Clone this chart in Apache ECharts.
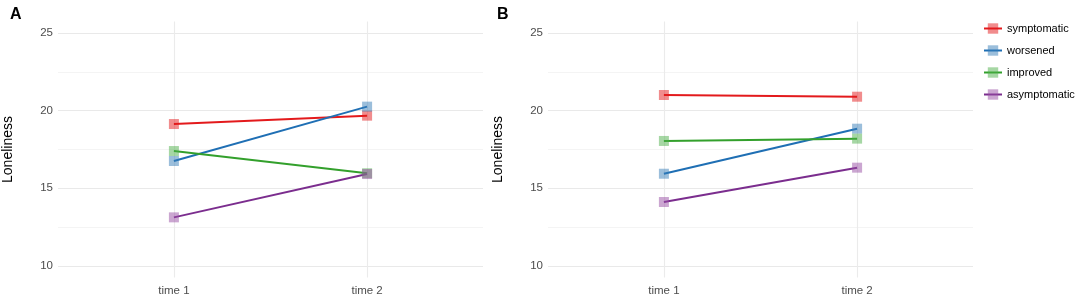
<!DOCTYPE html>
<html>
<head>
<meta charset="utf-8">
<script src="https://cdn.jsdelivr.net/npm/echarts@6/dist/echarts.min.js"></script>
<style>
  html, body { margin: 0; padding: 0; background: #fff; }
  #chart { width: 1084px; height: 305px; }
</style>
</head>
<body>
<div id="chart"></div>
<script>
// data
var timeLabels = ['time 1', 'time 2'];
var groups = ['symptomatic', 'worsened', 'improved', 'asymptomatic'];
var yTicks = [10, 15, 20, 25];
var yGrid = [10, 12.5, 15, 17.5, 20, 22.5, 25];

// panel A, one row per group (time 1, time 2)
var valuesA = [
  [19.14, 19.68],
  [16.76, 20.26],
  [17.40, 15.97],
  [13.13, 15.92]
];
// panel B
var valuesB = [
  [21.01, 20.90],
  [15.94, 18.84],
  [18.05, 18.20],
  [14.12, 16.33]
];

var lineColors = ['#e31a1c', '#1f6fb4', '#33a02c', '#7b2d8e'];
var markColors = ['#e41a1c', '#377eb8', '#4daf4a', '#984ea3'];

var fontFam = '"Liberation Sans", Arial, sans-serif';

function xAxisFor(idx) {
  return {
    type: 'value', gridIndex: idx, min: 0.4, max: 2.6,
    axisLine: { show: false },
    axisTick: { show: false, customValues: [1, 2] },
    axisLabel: {
      customValues: [1, 2], margin: 7,
      color: '#4d4d4d', fontSize: 11.5, fontFamily: fontFam,
      formatter: function (v) { return timeLabels[Math.round(v) - 1]; }
    },
    splitLine: { show: true, lineStyle: { color: '#ebebeb', width: 1.1 } }
  };
}

function yAxisFor(idx) {
  return {
    type: 'value', gridIndex: idx, min: 9.25, max: 25.75,
    name: 'Loneliness', nameLocation: 'middle', nameGap: 43, nameRotate: 90,
    nameTextStyle: { color: '#000', fontSize: 14, fontFamily: fontFam },
    axisLine: { show: false },
    axisTick: { show: false, customValues: yGrid },
    axisLabel: {
      customValues: yTicks, margin: 5,
      color: '#4d4d4d', fontSize: 11.5, fontFamily: fontFam
    },
    splitLine: { show: true, lineStyle: { color: ['#e9e9e9', '#f4f4f4'], width: 1.1 } }
  };
}

function seriesFor(values, idx) {
  return groups.map(function (g, i) {
    return {
      name: g, type: 'line', xAxisIndex: idx, yAxisIndex: idx,
      data: values[i].map(function (v, t) { return [t + 1, v]; }),
      symbol: 'rect', symbolSize: 10,
      lineStyle: { color: lineColors[i], width: 2 },
      itemStyle: { color: markColors[i], opacity: 0.5 },
      emphasis: { disabled: true },
      animation: false
    };
  });
}

var chart = echarts.init(document.getElementById('chart'));
chart.setOption({
  animation: false,
  textStyle: { fontFamily: fontFam },
  grid: [
    { left: 58, top: 21.4, width: 425, height: 256.2 },
    { left: 548, top: 21.4, width: 425, height: 256.2 }
  ],
  xAxis: [xAxisFor(0), xAxisFor(1)],
  yAxis: [yAxisFor(0), yAxisFor(1)],
  legend: {
    orient: 'vertical', left: 978, top: 18,
    itemWidth: 18, itemHeight: 13, itemGap: 11,
    data: groups,
    textStyle: { color: '#000', fontSize: 11, fontFamily: fontFam }
  },
  graphic: [
    { type: 'text', left: 10, top: 7, style: { text: 'A', font: 'bold 16px ' + fontFam, fill: '#000' } },
    { type: 'text', left: 497, top: 7, style: { text: 'B', font: 'bold 16px ' + fontFam, fill: '#000' } }
  ],
  series: seriesFor(valuesA, 0).concat(seriesFor(valuesB, 1))
});
</script>
</body>
</html>
